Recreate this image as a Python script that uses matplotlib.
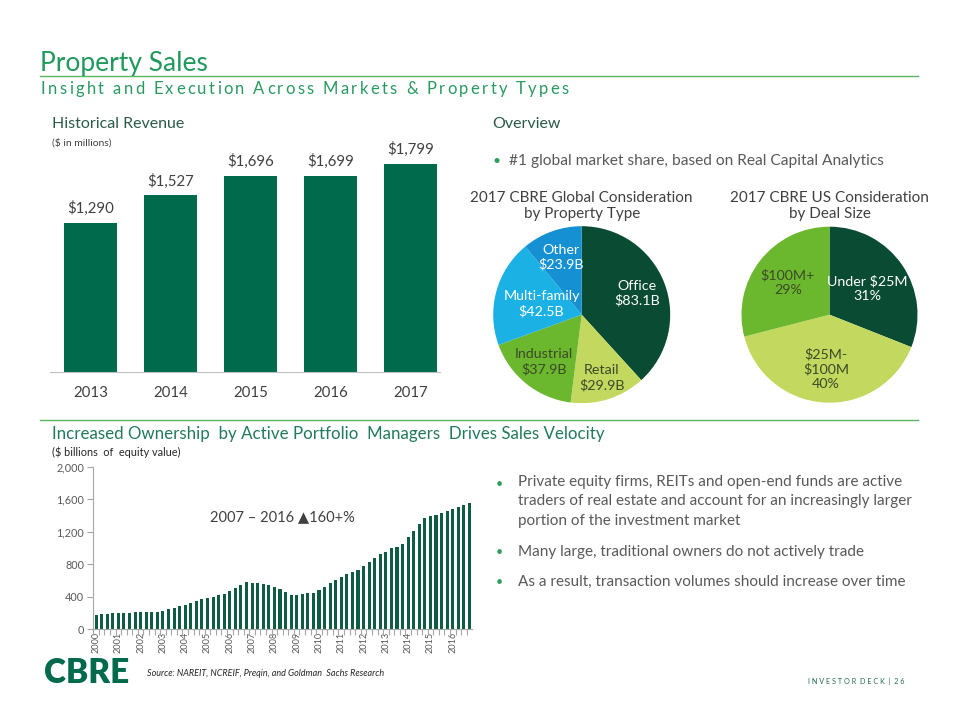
import matplotlib
matplotlib.use("Agg")
import matplotlib.pyplot as plt
from matplotlib.ticker import FuncFormatter, FixedLocator
from matplotlib.font_manager import FontProperties
from matplotlib.textpath import text_to_path
import numpy as np

plt.rcParams['font.family'] = ['Lato', 'DejaVu Sans']

# ---------------- data ----------------
rev_years = ['2013', '2014', '2015', '2016', '2017']
rev_values = [1290, 1527, 1696, 1699, 1799]

prop_types = ['Office', 'Retail', 'Industrial', 'Multi-family', 'Other']
prop_values = [83.1, 29.9, 37.9, 42.5, 23.9]
prop_labels = ['Office\n$83.1B', 'Retail\n$29.9B', 'Industrial\n$37.9B', 'Multi-family\n$42.5B', 'Other\n$23.9B']

deal_sizes = ['Under $25M', '$25M-$100M', '$100M+']
deal_values = [31, 40, 29]
deal_labels = ['Under $25M\n31%', '$25M-\n$100M\n40%', '$100M+\n29%']

own_years = [str(y) for y in range(2000, 2017)]
own_values = [177, 190, 190, 202,
              202, 202, 202, 214,
              214, 214, 214, 214,
              227, 247, 264, 289,
              305, 325, 350, 371,
              387, 400, 424, 437,
              474, 507, 548, 585,
              573, 573, 560, 548,
              523, 494, 462, 428,
              424, 437, 441, 449,
              482, 519, 573, 610,
              647, 676, 705, 734,
              783, 832, 882, 927,
              956, 997, 1018, 1055,
              1133, 1203, 1290, 1364,
              1388, 1400, 1425, 1450,
              1475, 1508, 1533, 1549]

bullets = ["Private equity firms, REITs and open-end funds are active\ntraders of real estate and account for an increasingly larger\nportion of the investment market",
           "Many large, traditional owners do not actively trade",
           "As a result, transaction volumes should increase over time"]

# ---------------- styles ----------------
W, H = 960, 720
DARK = '#006a4d'
GRAY = '#595959'
TXT = '#404040'
HEAD = '#2b5a4c'
RULE = '#5bb463'

def fx(x):
    return x / W

def fy(y):
    return 1 - y / H

def rect(l, t, r, b):
    return [fx(l), fy(b), (r - l) / W, (b - t) / H]

def spaced_text(fig, x0, x1, y, s, size, color, family='Lato'):
    """Draw text letter-spaced so it spans from x0 to x1 (pixels)."""
    prop = FontProperties(family=family, size=size)
    widths = []
    for ch in s:
        if ch == ' ':
            w, _, _ = text_to_path.get_text_width_height_descent('a a', prop, ismath=False)
            wa, _, _ = text_to_path.get_text_width_height_descent('aa', prop, ismath=False)
            widths.append((w - wa) * 100 / 72)
        else:
            w, _, _ = text_to_path.get_text_width_height_descent(ch, prop, ismath=False)
            widths.append(w * 100 / 72)
    total = sum(widths)
    extra = (x1 - x0 - total) / (len(s) - 1)
    x = x0
    for ch, w in zip(s, widths):
        if ch != ' ':
            fig.text(fx(x), fy(y), ch, fontproperties=prop, color=color, va='center', ha='left')
        x += w + extra

fig = plt.figure(figsize=(9.6, 7.2), dpi=100)
fig.patch.set_facecolor('white')

# ---- header ----
fig.text(fx(40), fy(64), 'Property Sales', fontsize=19, color='#1f9a5c', va='center', ha='left')
spaced_text(fig, 41, 569, 89, 'Insight and Execution Across Markets & Property Types', 12, '#2a9a60')
fig.add_artist(plt.Line2D([fx(40), fx(918)], [fy(76), fy(76)], color=RULE, lw=1.0))
fig.add_artist(plt.Line2D([fx(40), fx(918)], [fy(420), fy(420)], color=RULE, lw=1.0))

fig.text(fx(52), fy(124), 'Historical Revenue', fontsize=11.5, color=HEAD, va='center')
fig.text(fx(52), fy(143), '($ in millions)', fontsize=7.5, color=TXT, va='center')
fig.text(fx(492), fy(124), 'Overview', fontsize=11.5, color=HEAD, va='center')
fig.text(fx(493), fy(161), '\u2022', fontsize=10, color='#2e9e5e', va='center')
fig.text(fx(509), fy(161), '#1 global market share, based on Real Capital Analytics', fontsize=11.2,
         color=GRAY, va='center')

# ---- revenue bars ----
ax1 = fig.add_axes(rect(50, 140, 440, 372))
x1 = np.arange(len(rev_years))
bars = ax1.bar(x1, rev_values, width=0.66, color=DARK)
ax1.set_xlim(-0.506, 4.37)
ax1.set_ylim(0, 2007)
for s in ['top', 'right', 'left']:
    ax1.spines[s].set_visible(False)
ax1.spines['bottom'].set_color('#bfbfbf')
ax1.set_yticks([])
ax1.set_xticks(x1)
ax1.set_xticklabels(rev_years, fontsize=10.8, color=TXT)
ax1.tick_params(axis='x', length=0, pad=10)
for xi, v in zip(x1, rev_values):
    ax1.annotate(f'${v:,}', (xi, v), xytext=(0, 5), textcoords='offset points',
                 ha='center', va='bottom', fontsize=10.8, color=TXT)

# ---- pies ----
def make_pie(cx, cy, r, values, colors, labels, label_colors, rfacs, title):
    ax = fig.add_axes(rect(cx - r, cy - r, cx + r, cy + r))
    wedges, _ = ax.pie(values, colors=colors, startangle=90, counterclock=False, radius=1.0,
                       wedgeprops=dict(linewidth=0))
    ax.set_xlim(-1, 1)
    ax.set_ylim(-1, 1)
    ax.set_aspect('equal')
    ax.axis('off')
    for w, lab, lc, rf in zip(wedges, labels, label_colors, rfacs):
        ang = np.deg2rad((w.theta1 + w.theta2) / 2)
        ax.text(rf * np.cos(ang), rf * np.sin(ang), lab, ha='center', va='center',
                fontsize=10.3, color=lc, linespacing=1.25)
    fig.text(fx(cx), fy(206), title, ha='center', va='center', fontsize=11, color=TXT,
             linespacing=1.25)
    return ax

make_pie(581.7, 314.7, 88.5, prop_values,
         ['#0a4b33', '#c3d85f', '#6bb72e', '#1bb1e4', '#1590d2'],
         prop_labels, ['white', '#3d4a2a', '#3d4a2a', 'white', 'white'],
         [0.67, 0.75, 0.68, 0.47, 0.69],
         '2017 CBRE Global Consideration\nby Property Type')

make_pie(829.5, 314.7, 88.0, deal_values,
         ['#0a4b33', '#c3d85f', '#6bb72e'],
         deal_labels, ['white', '#3d4a2a', '#3d4a2a'],
         [0.52, 0.62, 0.6],
         '2017 CBRE US Consideration\nby Deal Size')

# ---- ownership section ----
fig.text(fx(52), fy(434), 'Increased Ownership  by Active Portfolio  Managers  Drives Sales Velocity',
         fontsize=12.2, color='#217a5b', va='center')
fig.text(fx(52), fy(452), '($ billions  of  equity value)', fontsize=7.8, color='#262626', va='center')

ax2 = fig.add_axes(rect(92.7, 466.7, 471.7, 629.3))
x2 = np.arange(len(own_values))
ax2.bar(x2, own_values, width=0.55, color='#0f5b44')
ax2.set_xlim(-0.6, 67.4)
ax2.set_ylim(0, 2000)
for s in ['top', 'right']:
    ax2.spines[s].set_visible(False)
ax2.spines['left'].set_color('#a6a6a6')
ax2.spines['bottom'].set_color('#a6a6a6')
ax2.set_yticks(np.arange(0, 2001, 400))
ax2.yaxis.set_major_formatter(FuncFormatter(lambda v, p: f'{int(v):,}'))
ax2.tick_params(axis='y', labelsize=7.8, colors=GRAY, length=4, width=0.8, color='#a6a6a6', pad=2)
ax2.set_xticks(np.arange(0, len(own_values), 4))
ax2.set_xticklabels(own_years, rotation=90, fontsize=6.6, color=GRAY)
ax2.tick_params(axis='x', length=0, pad=2)
ax2.xaxis.set_minor_locator(FixedLocator(np.arange(-0.5, len(own_values), 1)))
ax2.tick_params(axis='x', which='minor', length=4, width=0.8, color='#a6a6a6')
ax2.text(33.5, 1385, '2007 \u2013 2016 \u25b2160+%', ha='center', va='center', fontsize=10.5, color=TXT)

# ---- bullets right ----
BS = 11
fig.text(fx(496), fy(484), '\u2022', fontsize=9, color='#2e9e5e', va='center')
fig.text(fx(517.7), fy(475), bullets[0], fontsize=BS, color=GRAY, va='top', linespacing=1.5)
fig.text(fx(496), fy(552), '\u2022', fontsize=9, color='#2e9e5e', va='center')
fig.text(fx(517.7), fy(552), bullets[1], fontsize=BS, color=GRAY, va='center')
fig.text(fx(496), fy(581.7), '\u2022', fontsize=9, color='#2e9e5e', va='center')
fig.text(fx(517.7), fy(581.7), bullets[2], fontsize=BS, color=GRAY, va='center')

# ---- footer ----
fig.text(fx(44), fy(683), 'CBRE', fontsize=24, fontweight='heavy', color=DARK, va='baseline')
fig.text(fx(147), fy(674), 'Source: NAREIT, NCREIF, Preqin, and Goldman  Sachs Research', fontsize=6.5,
         style='italic', color='#262626', va='center')
fig.text(fx(905), fy(681), 'I N V E S T O R  D E C K  |  2 6', fontsize=5.2, color='#1f6b55',
         va='center', ha='right')

fig.savefig('out.png', dpi=100, facecolor='white')
